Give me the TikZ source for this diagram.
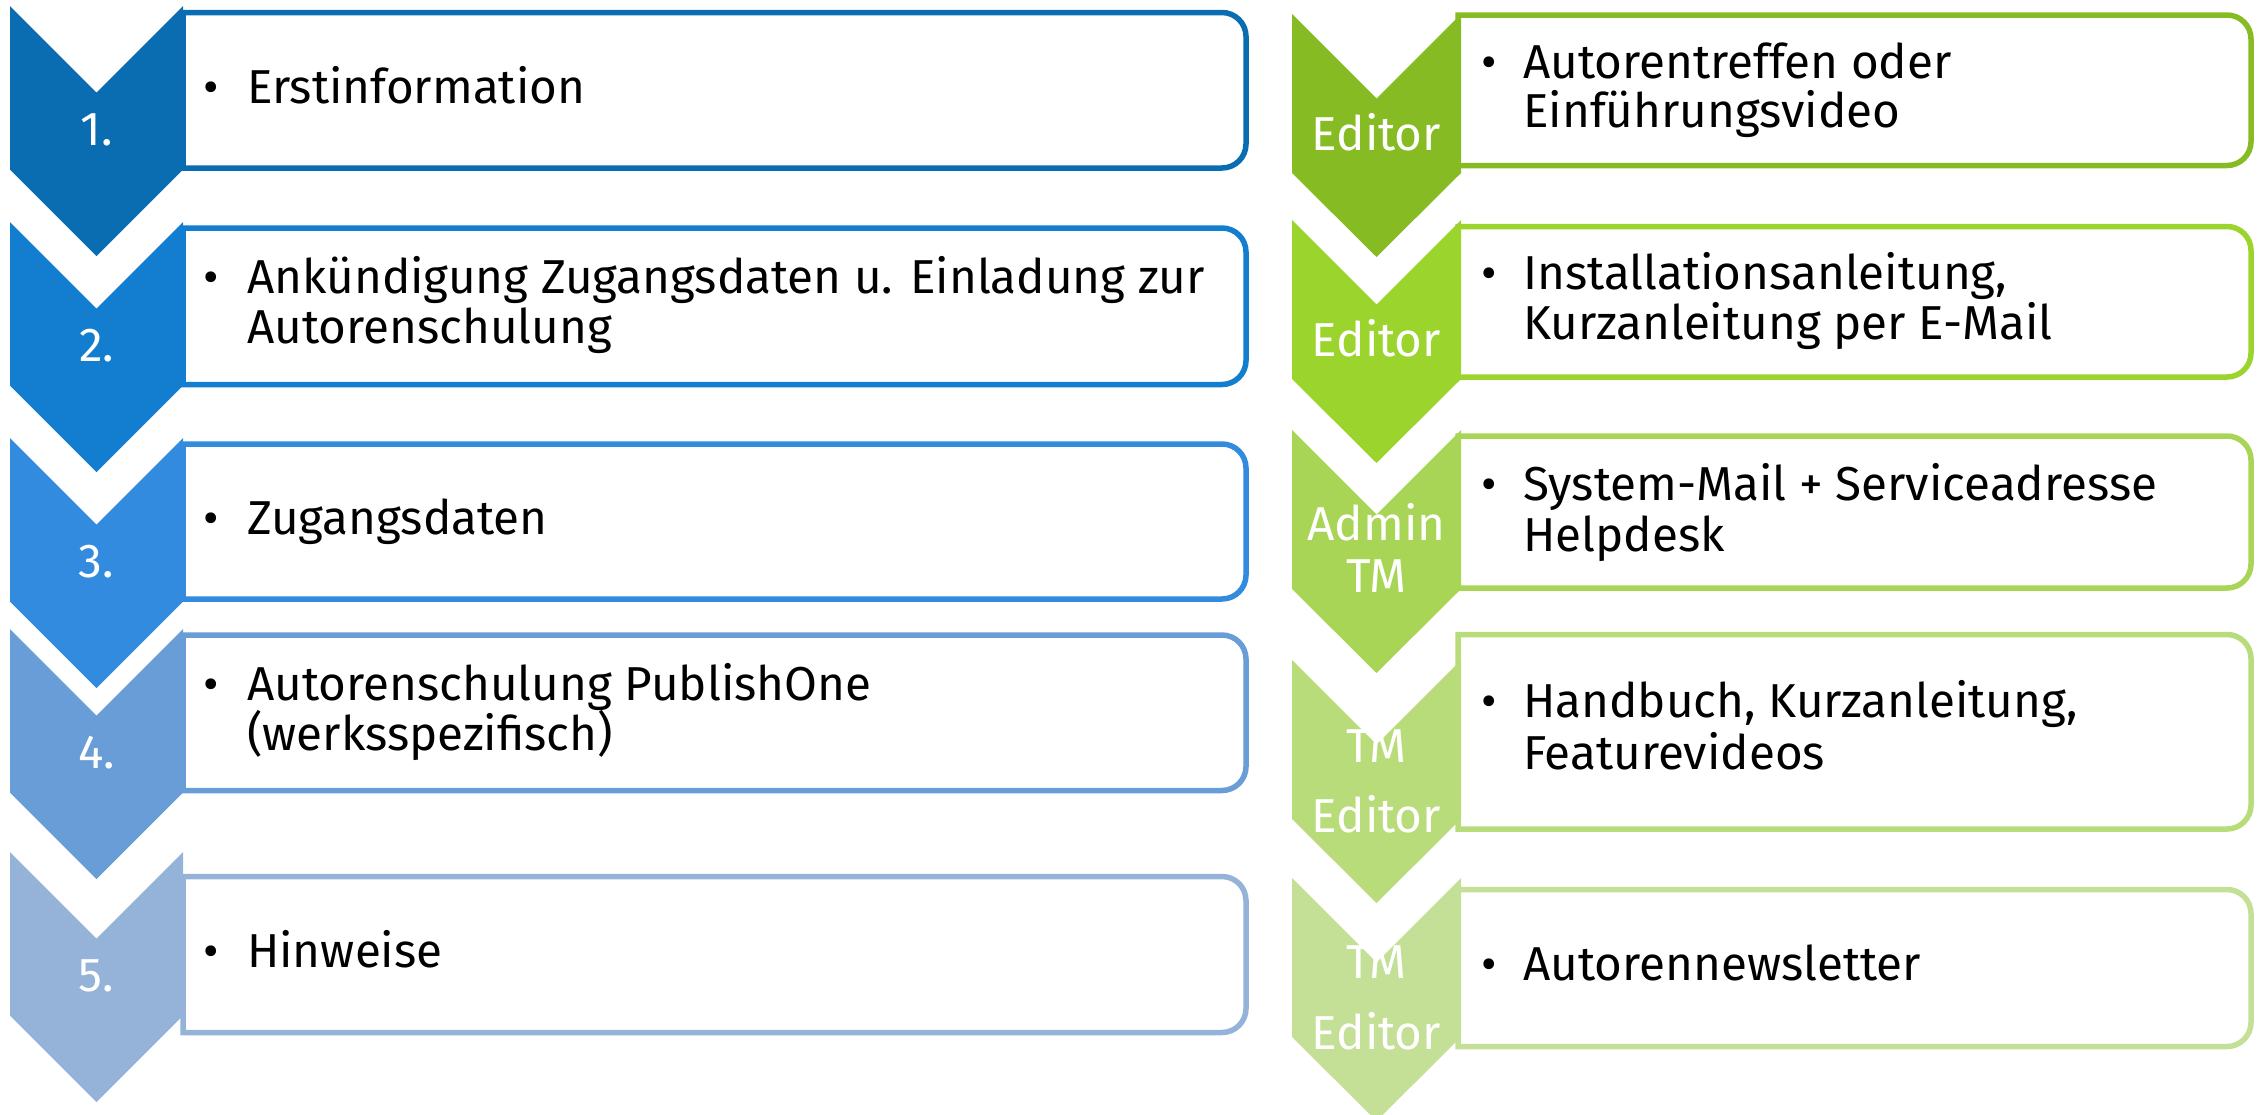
\documentclass[tikz,border=0pt]{standalone}
\usepackage{fontspec}
\setmainfont{Fira Sans}
\begin{document}
\begin{tikzpicture}[x=1pt,y=-1pt,
  box/.style={line width=5.5pt},
  txt/.style={anchor=base west, inner sep=0pt, font=\fontsize{47.6}{52}\selectfont, text=black},
  bul/.style={anchor=base west, inner sep=0pt, font=\fontsize{47.6}{52}\selectfont, text=black},
  lab/.style={anchor=base, inner sep=0pt, font=\fontsize{47.6}{52}\selectfont, text=white}]
\definecolor{cL1}{HTML}{0A6DB1}
\definecolor{cL2}{HTML}{137ED0}
\definecolor{cL3}{HTML}{328BDE}
\definecolor{cL4}{HTML}{699DD7}
\definecolor{cL5}{HTML}{95B2D9}
\definecolor{cR1}{HTML}{86BB23}
\definecolor{cR2}{HTML}{9CD42E}
\definecolor{cR3}{HTML}{A9D557}
\definecolor{cR4}{HTML}{B8DC7A}
\definecolor{cR5}{HTML}{C4DF96}
\useasboundingbox (0,0) rectangle (2260,1114);
% left boxes
\foreach \t/\b/\c in {12.5/168/cL1, 228/384.5/cL2, 444/599/cL3, 635/790.5/cL4, 876.5/1032.5/cL5}{
  \draw[box,draw=\c] (183,\t) -- (1222,\t) arc[start angle=-90,end angle=0,radius=24] -- (1246,\b-24) arc[start angle=0,end angle=90,radius=24] -- (183,\b) -- cycle;
}
% right boxes
\foreach \t/\b/\c in {15/165.5/cR1, 226.5/377/cR2, 436/588/cR3, 634.5/829/cR4, 889.5/1046.5/cR5}{
  \draw[box,draw=\c] (1458,\t) -- (2227,\t) arc[start angle=-90,end angle=0,radius=24] -- (2251,\b-24) arc[start angle=0,end angle=90,radius=24] -- (1458,\b) -- cycle;
}
% left chevrons
\foreach \t/\c in {6/cL1, 222/cL2, 438/cL3, 629/cL4, 852/cL5}{
  \fill[\c] (10,\t) -- (96.5,\t+86.5) -- (183,\t) -- (183,\t+163.5) -- (96.5,\t+250) -- (10,\t+163.5) -- cycle;
}
% right chevrons
\foreach \t/\c in {14/cR1, 220/cR2, 430/cR3, 660/cR4, 878/cR5}{
  \fill[\c] (1292,\t) -- (1376.5,\t+84.5) -- (1461,\t) -- (1461,\t+159) -- (1376.5,\t+243) -- (1292,\t+159) -- cycle;
}
% left labels
\node[lab] (n1) at (96.5,145) {1.};
\node[lab] (n2) at (96.5,361) {2.};
\node[lab] (n3) at (96.5,577) {3.};
\node[lab] (n4) at (96.5,768) {4.};
\node[lab] (n5) at (96.5,991) {5.};
% right labels
\node[lab] (r1) at (1376.5,150) {Editor};
\node[lab] (r2) at (1376.5,356) {Editor};
\node[lab] (r3a) at (1376.5,540) {Admin};
\node[lab] (r3b) at (1376.5,592) {TM};
\node[lab] (r4a) at (1376.5,762) {TM};
\node[lab] (r4b) at (1376.5,832) {Editor};
\node[lab] (r5a) at (1376.5,978) {TM};
\node[lab] (r5b) at (1376.5,1049) {Editor};
% left texts
\node[bul] (b1) at (203,103) {•};
\node[txt] (t1) at (247,103) {Erstinformation};
\node[bul] (b2) at (203,293) {•};
\node[txt] (t2a) at (247,293) {Ankündigung Zugangsdaten u. Einladung zur};
\node[txt] (t2b) at (247,343) {Autorenschulung};
\node[bul] (b3) at (203,534) {•};
\node[txt] (t3) at (247,534) {Zugangsdaten};
\node[bul] (b4) at (203,700) {•};
\node[txt] (t4a) at (247,700) {Autorenschulung PublishOne};
\node[txt] (t4b) at (247,750) {(werksspezifisch)};
\node[bul] (b5) at (203,967) {•};
\node[txt] (t5) at (247,967) {Hinweise};
% right texts
\node[bul] (c1) at (1481,78) {•};
\node[txt] (u1a) at (1523,78) {Autorentreffen oder};
\node[txt] (u1b) at (1523,127) {Einführungsvideo};
\node[bul] (c2) at (1481,289) {•};
\node[txt] (u2a) at (1523,289) {Installationsanleitung,};
\node[txt] (u2b) at (1523,339) {Kurzanleitung per E-Mail};
\node[bul] (c3) at (1481,500) {•};
\node[txt] (u3a) at (1523,500) {System-Mail + Serviceadresse};
\node[txt] (u3b) at (1523,551) {Helpdesk};
\node[bul] (c4) at (1481,717) {•};
\node[txt] (u4a) at (1523,717) {Handbuch, Kurzanleitung,};
\node[txt] (u4b) at (1523,769) {Featurevideos};
\node[bul] (c5) at (1481,980) {•};
\node[txt] (u5) at (1523,980) {Autorennewsletter};
\end{tikzpicture}
\end{document}
